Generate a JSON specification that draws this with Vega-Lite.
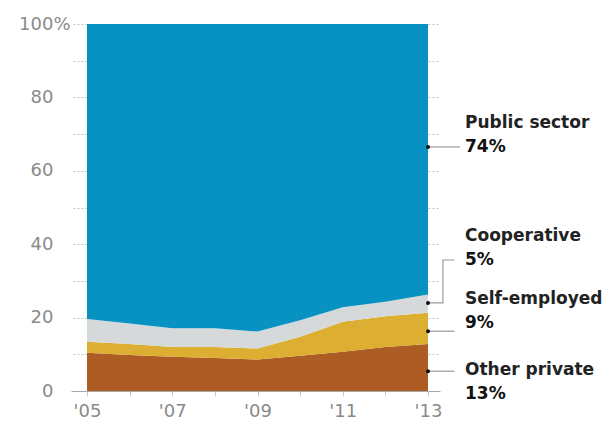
{
  "$schema": "https://vega.github.io/schema/vega-lite/v6.json",
  "width": 341,
  "height": 367,
  "autosize": "none",
  "padding": {"left": 87, "top": 24, "right": 177, "bottom": 36},
  "background": "white",
  "config": {"view": {"stroke": null}, "font": "DejaVu Sans"},
  "datasets": {
    "main": [
      {"year": 2005, "s": "Other private", "k": 1, "v": 10.4},
      {"year": 2005, "s": "Self-employed", "k": 2, "v": 3.0},
      {"year": 2005, "s": "Cooperative", "k": 3, "v": 6.2},
      {"year": 2005, "s": "Public sector", "k": 4, "v": 80.4},
      {"year": 2006, "s": "Other private", "k": 1, "v": 9.8},
      {"year": 2006, "s": "Self-employed", "k": 2, "v": 3.0},
      {"year": 2006, "s": "Cooperative", "k": 3, "v": 5.6},
      {"year": 2006, "s": "Public sector", "k": 4, "v": 81.6},
      {"year": 2007, "s": "Other private", "k": 1, "v": 9.3},
      {"year": 2007, "s": "Self-employed", "k": 2, "v": 2.7},
      {"year": 2007, "s": "Cooperative", "k": 3, "v": 5.1},
      {"year": 2007, "s": "Public sector", "k": 4, "v": 82.9},
      {"year": 2008, "s": "Other private", "k": 1, "v": 9.0},
      {"year": 2008, "s": "Self-employed", "k": 2, "v": 3.0},
      {"year": 2008, "s": "Cooperative", "k": 3, "v": 5.1},
      {"year": 2008, "s": "Public sector", "k": 4, "v": 82.9},
      {"year": 2009, "s": "Other private", "k": 1, "v": 8.6},
      {"year": 2009, "s": "Self-employed", "k": 2, "v": 3.0},
      {"year": 2009, "s": "Cooperative", "k": 3, "v": 4.6},
      {"year": 2009, "s": "Public sector", "k": 4, "v": 83.8},
      {"year": 2010, "s": "Other private", "k": 1, "v": 9.6},
      {"year": 2010, "s": "Self-employed", "k": 2, "v": 5.2},
      {"year": 2010, "s": "Cooperative", "k": 3, "v": 4.5},
      {"year": 2010, "s": "Public sector", "k": 4, "v": 80.7},
      {"year": 2011, "s": "Other private", "k": 1, "v": 10.7},
      {"year": 2011, "s": "Self-employed", "k": 2, "v": 8.2},
      {"year": 2011, "s": "Cooperative", "k": 3, "v": 3.9},
      {"year": 2011, "s": "Public sector", "k": 4, "v": 77.2},
      {"year": 2012, "s": "Other private", "k": 1, "v": 12.0},
      {"year": 2012, "s": "Self-employed", "k": 2, "v": 8.4},
      {"year": 2012, "s": "Cooperative", "k": 3, "v": 3.9},
      {"year": 2012, "s": "Public sector", "k": 4, "v": 75.7},
      {"year": 2013, "s": "Other private", "k": 1, "v": 12.8},
      {"year": 2013, "s": "Self-employed", "k": 2, "v": 8.5},
      {"year": 2013, "s": "Cooperative", "k": 3, "v": 5.0},
      {"year": 2013, "s": "Public sector", "k": 4, "v": 73.7}
    ],
    "ann": [
      {"name": "Public sector", "pct": "74%", "x": 2013, "dotY": 66.5, "textY": 66.5},
      {"name": "Cooperative", "pct": "5%", "x": 2013, "dotY": 24.0, "textY": 35.7},
      {"name": "Self-employed", "pct": "9%", "x": 2013, "dotY": 16.3, "textY": 18.5},
      {"name": "Other private", "pct": "13%", "x": 2013, "dotY": 5.4, "textY": -0.8}
    ],
    "conn": [
      {"s": "Public sector", "i": 1, "x": 2013, "y": 66.5},
      {"s": "Public sector", "i": 2, "x": 2013.75, "y": 66.5},
      {"s": "Cooperative", "i": 1, "x": 2013, "y": 24.0},
      {"s": "Cooperative", "i": 2, "x": 2013.35, "y": 24.0},
      {"s": "Cooperative", "i": 3, "x": 2013.35, "y": 35.7},
      {"s": "Cooperative", "i": 4, "x": 2013.62, "y": 35.7},
      {"s": "Self-employed", "i": 1, "x": 2013, "y": 16.3},
      {"s": "Self-employed", "i": 2, "x": 2013.62, "y": 16.3},
      {"s": "Other private", "i": 1, "x": 2013, "y": 5.4},
      {"s": "Other private", "i": 2, "x": 2013.62, "y": 5.4}
    ]
  },
  "resolve": {"axis": {"y": "independent"}},
  "layer": [
    {
      "data": {"name": "main"},
      "mark": {"type": "area", "interpolate": "linear"},
      "encoding": {
        "x": {
          "field": "year", "type": "quantitative",
          "scale": {"domain": [2005, 2013], "nice": false, "zero": false},
          "axis": {
            "title": null,
            "values": [2005, 2006, 2007, 2008, 2009, 2010, 2011, 2012, 2013],
            "labelExpr": "datum.value % 2 == 1 ? \"'\" + slice(toString(datum.value), 2) : ''",
            "domain": true, "domainColor": "#a8a8a8", "domainWidth": 1,
            "ticks": true, "tickSize": 5, "tickColor": "#c8c8c8",
            "grid": false,
            "labelFont": "DejaVu Sans", "labelFontSize": 18, "labelColor": "#8a8a8a",
            "labelPadding": 6, "labelFlush": false, "labelOverlap": false
          }
        },
        "y": {
          "field": "v", "type": "quantitative", "stack": "zero",
          "scale": {"domain": [0, 100], "nice": false},
          "axis": {
            "title": null, "orient": "left",
            "values": [0, 10, 20, 30, 40, 50, 60, 70, 80, 90, 100],
            "labelExpr": "datum.value == 100 ? '100%' : (datum.value % 20 == 0 ? toString(datum.value) : '')",
            "domain": false, "grid": false,
            "ticks": true, "tickSize": 16,
            "tickColor": {"condition": {"test": "datum.value === 0", "value": "#a8a8a8"}, "value": "#c4c4c4"},
            "tickDash": {"condition": {"test": "datum.value === 0", "value": []}, "value": [2, 2]},
            "labelPadding": {"condition": {"test": "datum.value === 100", "value": 1}, "value": 18},
            "labelFont": "DejaVu Sans", "labelFontSize": 18, "labelColor": "#8a8a8a"
          }
        },
        "color": {
          "field": "s", "type": "nominal",
          "scale": {
            "domain": ["Other private", "Self-employed", "Cooperative", "Public sector"],
            "range": ["#ad5c24", "#dcae32", "#d6d9da", "#0892c2"]
          },
          "legend": null
        },
        "order": {"field": "k", "type": "quantitative"}
      }
    },
    {
      "data": {"name": "conn"},
      "mark": {"type": "line", "color": "#9a9a9a", "strokeWidth": 1.2},
      "encoding": {
        "x": {"field": "x", "type": "quantitative"},
        "y": {
          "field": "y", "type": "quantitative",
          "axis": {
            "title": null, "orient": "right",
            "values": [0, 10, 20, 30, 40, 50, 60, 70, 80, 90, 100],
            "labels": false, "domain": false, "grid": false,
            "ticks": true, "tickSize": 12,
            "tickColor": {"condition": {"test": "datum.value === 0", "value": "#a8a8a8"}, "value": "#c4c4c4"},
            "tickDash": {"condition": {"test": "datum.value === 0", "value": []}, "value": [2, 2]}
          }
        },
        "detail": {"field": "s", "type": "nominal"},
        "order": {"field": "i", "type": "quantitative"}
      }
    },
    {
      "data": {"name": "ann"},
      "mark": {"type": "circle", "color": "#111111", "opacity": 1, "size": 16},
      "encoding": {
        "x": {"field": "x", "type": "quantitative"},
        "y": {"field": "dotY", "type": "quantitative", "axis": null}
      }
    },
    {
      "data": {"name": "ann"},
      "mark": {"type": "text", "align": "left", "baseline": "middle", "dx": 37, "dy": -24, "font": "DejaVu Sans", "fontSize": 17, "fontWeight": "bold", "color": "#222222"},
      "encoding": {
        "x": {"field": "x", "type": "quantitative"},
        "y": {"field": "textY", "type": "quantitative", "axis": null},
        "text": {"field": "name"}
      }
    },
    {
      "data": {"name": "ann"},
      "mark": {"type": "text", "align": "left", "baseline": "middle", "dx": 37, "font": "DejaVu Sans", "fontSize": 17, "fontWeight": "bold", "color": "#111111"},
      "encoding": {
        "x": {"field": "x", "type": "quantitative"},
        "y": {"field": "textY", "type": "quantitative", "axis": null},
        "text": {"field": "pct"}
      }
    }
  ]
}
